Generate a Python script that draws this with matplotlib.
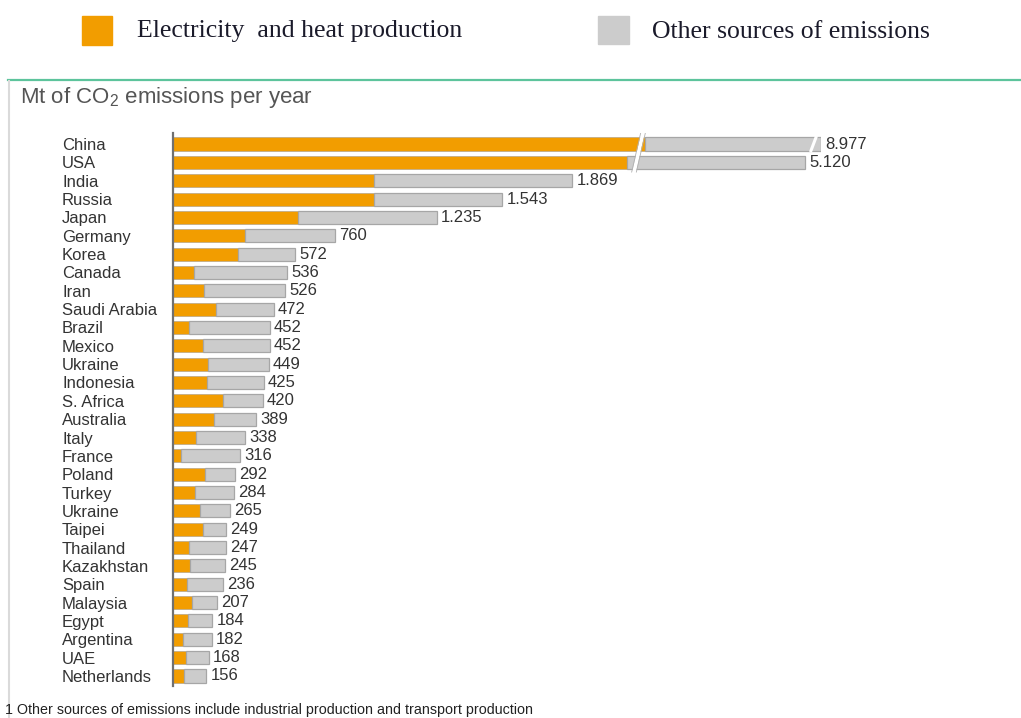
import numpy as np
import matplotlib
matplotlib.use('Agg')
import matplotlib.pyplot as plt
from matplotlib.lines import Line2D
from matplotlib.patches import Rectangle
from matplotlib.transforms import IdentityTransform

plt.rcParams['font.family'] = ['Liberation Sans', 'DejaVu Sans']
plt.rcParams['mathtext.default'] = 'regular'

countries = ['China', 'USA', 'India', 'Russia', 'Japan', 'Germany', 'Korea', 'Canada',
             'Iran', 'Saudi Arabia', 'Brazil', 'Mexico', 'Ukraine', 'Indonesia',
             'S. Africa', 'Australia', 'Italy', 'France', 'Poland', 'Turkey', 'Ukraine',
             'Taipei', 'Thailand', 'Kazakhstan', 'Spain', 'Malaysia', 'Egypt',
             'Argentina', 'UAE', 'Netherlands']
total = [8977, 5120, 1869, 1543, 1235, 760, 572, 536, 526, 472, 452, 452, 449, 425,
         420, 389, 338, 316, 292, 284, 265, 249, 247, 245, 236, 207, 184, 182, 168, 156]
electricity = [2210, 2126, 943, 943, 587, 337, 303, 98, 146, 200, 76, 142, 165, 158,
               233, 190, 108, 39, 151, 103, 126, 142, 75, 81, 64, 88, 72, 45, 61, 52]

ORANGE = '#F29D00'
GREY = '#CCCCCC'
W, H = 1021, 718

# axis break: linear up to BREAK, then squeezed so the two big bars fit
BREAK, SPAN, DECAY = 2215.0, 823.0, 1236.0

def fwd(v):
    v = np.asarray(v, dtype=float)
    return np.where(v <= BREAK, v, BREAK + SPAN * (1 - np.exp(-(v - BREAK) / DECAY)))

def inv(u):
    u = np.asarray(u, dtype=float)
    r = np.clip(1 - (u - BREAK) / SPAN, 1e-9, None)
    return np.where(u <= BREAK, u, BREAK - DECAY * np.log(r))

def euro(n):
    return f'{n:,}'.replace(',', '.')

fig = plt.figure(figsize=(W / 100, H / 100), dpi=100)

def fx(x):
    return x / W

def fy(y):
    return 1 - y / H

# legend on top
fig.add_artist(Rectangle((fx(82), fy(45)), 30 / W, 29 / H, color=ORANGE, transform=fig.transFigure))
fig.add_artist(Rectangle((fx(598), fy(44)), 31 / W, 28 / H, color=GREY, transform=fig.transFigure))
fig.text(fx(137), fy(31), 'Electricity  and heat production', family='Liberation Serif',
         fontsize=18.5, color='#1a1a2a', va='center')
fig.text(fx(652), fy(32), 'Other sources of emissions', family='Liberation Serif',
         fontsize=18.5, color='#1a1a2a', va='center')

# frame lines
fig.add_artist(Line2D([fx(8), 1], [fy(80), fy(80)], color='#5DC49C', lw=1.6))
fig.add_artist(Line2D([fx(9), fx(9)], [fy(81), 0], color='#DADADA', lw=1.5))

fig.text(fx(20), fy(97), 'Mt of CO$_{2}$ emissions per year', fontsize=16, color='#555555', va='center')
fig.text(fx(5), fy(710), '1 Other sources of emissions include industrial production and transport production',
         fontsize=10.3, color='#222222', va='center')

ax = fig.add_axes([fx(173), fy(686), 648 / W, (686 - 133) / H])
ax.set_xscale('function', functions=(fwd, inv))
ax.set_xlim(0, 9000)
ax.set_ylim(29 + 10 / 18.34, -11 / 18.34)

y = np.arange(len(countries))
elec = np.array(electricity)
tot = np.array(total)
ax.barh(y, elec, height=0.71, color=ORANGE, edgecolor='#B5A58A', lw=0.5)
ax.barh(y, tot - elec, left=elec, height=0.71, color=GREY, edgecolor='#A6A6A6', lw=0.9)

for i, t in enumerate(total):
    ax.annotate(euro(t), xy=(t, i), xytext=(3, 0), textcoords='offset points',
                va='center', ha='left', fontsize=12, color='#333333')

ax.set_yticks(y)
ax.set_yticklabels(countries, fontsize=12, color='#333333')
for lab in ax.get_yticklabels():
    lab.set_ha('left')
ax.tick_params(axis='y', length=0, pad=(173 - 62) * 0.72)
ax.set_xticks([])
for side in ['top', 'right', 'bottom']:
    ax.spines[side].set_visible(False)
ax.spines['left'].set_color('#707070')
ax.spines['left'].set_linewidth(1.6)

# break slash through China and USA
bx = [BREAK - 56, BREAK - 14]
by = [1.53, -0.6]
ax.plot(bx, by, color='white', lw=2.6, solid_capstyle='butt', zorder=3)
for d in (-11, 11):
    ax.plot([bx[0] + d, bx[1] + d], by, color='#B0B0B0', lw=0.6, zorder=3)

# small cut just before the end of the China bar
xe = ax.transData.transform((total[0], 0))[0]
yb = ax.transData.transform((0, 0.36))[1]
yt = ax.transData.transform((0, -0.36))[1]
fig.add_artist(Line2D([xe - 10, xe - 5], [yb, yt], color='white', lw=2.2, transform=IdentityTransform()))

fig.savefig('out.png', dpi=100)
